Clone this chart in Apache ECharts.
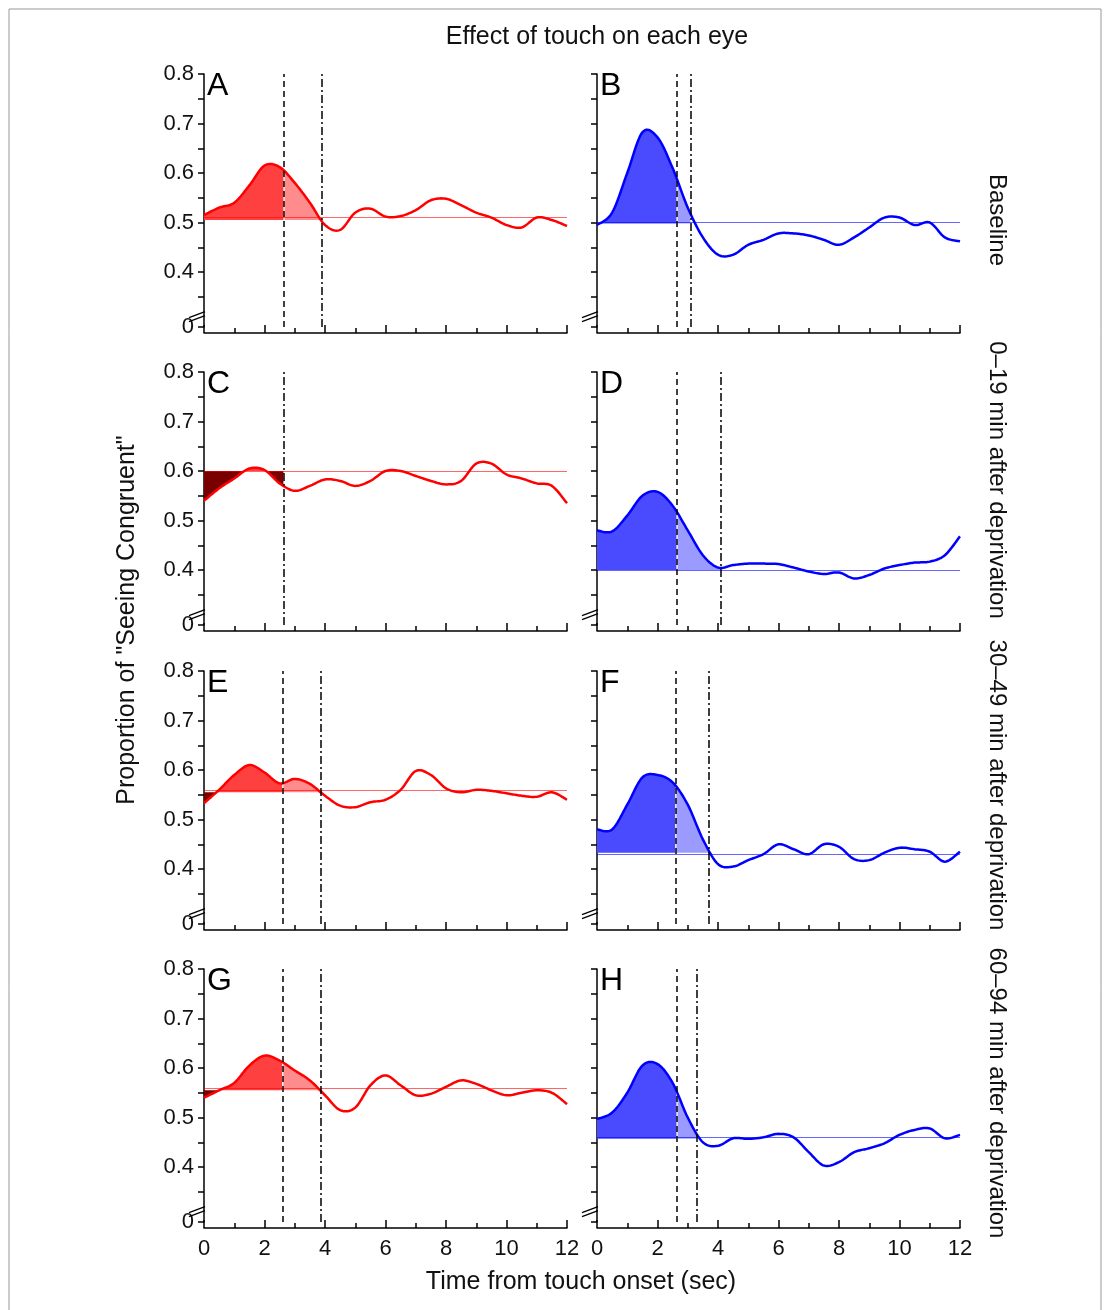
<!DOCTYPE html>
<html><head><meta charset="utf-8">
<script src="https://cdn.jsdelivr.net/npm/echarts@6/dist/echarts.min.js"></script>
<style>html,body{margin:0;padding:0;background:#fff}#c{width:1110px;height:1310px}</style>
</head><body><div id="c"></div>
<script>
const times = [0,0.5,1,1.5,2,2.5,3,3.5,4,4.5,5,5.5,6,6.5,7,7.5,8,8.5,9,9.5,10,10.5,11,11.5,12];
const panelLabels = ['A','B','C','D','E','F','G','H'];
const valsA = [0.515,0.53,0.54,0.575,0.615,0.612,0.58,0.54,0.495,0.485,0.52,0.528,0.512,0.513,0.525,0.545,0.548,0.535,0.52,0.51,0.495,0.49,0.51,0.505,0.493];
const valsB = [0.495,0.52,0.6,0.682,0.672,0.61,0.53,0.47,0.435,0.435,0.455,0.465,0.478,0.478,0.474,0.465,0.455,0.47,0.49,0.51,0.51,0.495,0.5,0.47,0.462];
const valsC = [0.54,0.565,0.585,0.605,0.602,0.575,0.56,0.57,0.583,0.58,0.57,0.58,0.6,0.6,0.59,0.58,0.573,0.58,0.615,0.615,0.593,0.585,0.575,0.57,0.535];
const valsD = [0.48,0.478,0.51,0.55,0.558,0.53,0.48,0.43,0.405,0.41,0.413,0.413,0.412,0.405,0.397,0.392,0.395,0.383,0.39,0.403,0.41,0.415,0.417,0.43,0.468];
const valsE = [0.533,0.56,0.59,0.61,0.595,0.573,0.582,0.572,0.548,0.528,0.525,0.535,0.54,0.56,0.598,0.59,0.563,0.555,0.56,0.558,0.553,0.548,0.546,0.555,0.54];
const valsF = [0.48,0.48,0.53,0.585,0.59,0.575,0.53,0.46,0.41,0.405,0.418,0.43,0.45,0.44,0.43,0.45,0.445,0.42,0.418,0.433,0.443,0.44,0.435,0.415,0.435];
const valsG = [0.54,0.555,0.57,0.605,0.625,0.615,0.595,0.575,0.545,0.515,0.52,0.565,0.585,0.565,0.545,0.548,0.562,0.575,0.568,0.555,0.545,0.55,0.555,0.55,0.527];
const valsH = [0.497,0.51,0.55,0.605,0.608,0.57,0.5,0.45,0.443,0.458,0.457,0.46,0.467,0.46,0.43,0.403,0.41,0.43,0.438,0.448,0.465,0.475,0.478,0.458,0.465];
const baselines = [0.505,0.498,0.6,0.4,0.555,0.433,0.555,0.457];
const dashedX = [2.65,2.65,2.65,2.65,2.6,2.6,2.6,2.65];
const dashdotX = [3.9,3.1,2.65,4.1,3.85,3.7,3.85,3.3];
const yTickLabels = [0.289,0.4,0.5,0.6,0.7,0.8];
const yTicks = [0.289,0.35,0.4,0.45,0.5,0.55,0.6,0.65,0.7,0.75,0.8];
const rowLabels = ['Baseline','0–19 min after deprivation','30–49 min after deprivation','60–94 min after deprivation'];
const allVals = [valsA,valsB,valsC,valsD,valsE,valsF,valsG,valsH];

const FONT = '"Liberation Sans", Arial, sans-serif';
const rowTops = [74,372,671,969];
const colLefts = [204,597];
const GH = 253, GW = 363;

// Catmull-Rom spline in pixel space through library-mapped points
function spline(P){
  const out=[];
  const n=P.length, S=12;
  for(let i=0;i<n-1;i++){
    const p0=P[Math.max(i-1,0)], p1=P[i], p2=P[i+1], p3=P[Math.min(i+2,n-1)];
    for(let s=0;s<S;s++){
      const t=s/S, t2=t*t, t3=t2*t;
      const f=(a,b,c,d)=>0.5*((2*b)+(-a+c)*t+(2*a-5*b+4*c-d)*t2+(-a+3*b-3*c+d)*t3);
      out.push([f(p0[0],p1[0],p2[0],p3[0]), f(p0[1],p1[1],p2[1],p3[1])]);
    }
  }
  out.push(P[n-1]);
  return out;
}

const grid=[],xAxis=[],yAxis=[],series=[];
for(let i=0;i<8;i++){
  const r=Math.floor(i/2), c=i%2;
  const red = c===0;
  grid.push({left:colLefts[c],top:rowTops[r],width:GW,height:GH});
  xAxis.push({gridIndex:i,type:'value',min:0,max:12,interval:2,offset:6,
    axisLine:{lineStyle:{color:'#000',width:1.5}},
    axisTick:{inside:true,length:8,lineStyle:{color:'#000',width:1.5}},
    minorTick:{show:true,splitNumber:2,length:5,lineStyle:{color:'#000',width:1.5}},
    splitLine:{show:false},minorSplitLine:{show:false},
    axisLabel:{show:r===3,fontSize:22,color:'#111',fontFamily:FONT,margin:10,showMinLabel:true,showMaxLabel:true}
  });
  yAxis.push({gridIndex:i,type:'value',min:0.289,max:0.8,offset:7,
    axisLine:{show:true,lineStyle:{color:'#000',width:1.5}},
    axisTick:{show:true,length:6,customValues:yTicks,lineStyle:{color:'#000',width:1.5}},
    splitLine:{show:false},
    axisLabel:{show:c===0,customValues:yTickLabels,fontSize:22,color:'#111',fontFamily:FONT,margin:3,
      formatter:v=>v<0.3?'0':v.toFixed(1)}
  });
  const v=allVals[i], base=baselines[i], xd=dashedX[i], xdd=dashdotX[i];
  const cMain = red?'#ff0000':'#0000ff';
  const cFill = red?'#ff4040':'#4a4aff';
  const cLight = red?'#ff8c8c':'#9a9aff';
  const cDark = red?'#7a0000':'#00007a';
  series.push({type:'custom',xAxisIndex:i,yAxisIndex:i,silent:true,z:3,clip:false,
    data:[0],
    renderItem:(params,api)=>{
      const P=times.map((t,k)=>api.coord([t,v[k]]));
      const D=spline(P);
      const by=api.coord([0,base])[1];
      const px0=api.coord([0,base])[0], pxd=api.coord([xd,base])[0], pxdd=api.coord([xdd,base])[0];
      function poly(a,b,mode){
        const pts=D.filter(p=>p[0]>=a-0.01 && p[0]<=b+0.01).map(p=>[p[0], mode>0?Math.min(p[1],by):Math.max(p[1],by)]);
        if(pts.length<2) return null;
        pts.push([pts[pts.length-1][0],by]); pts.push([pts[0][0],by]);
        return pts;
      }
      const ch=[];
      const a1=poly(px0,pxd,1), b1=poly(px0,pxd,-1);
      if(a1) ch.push({type:'polygon',shape:{points:a1},style:{fill:cFill}});
      if(b1) ch.push({type:'polygon',shape:{points:b1},style:{fill:cDark}});
      if(xdd>xd){ const a2=poly(pxd,pxdd,1); if(a2) ch.push({type:'polygon',shape:{points:a2},style:{fill:cLight}}); }
      ch.push({type:'polyline',shape:{points:D},style:{stroke:cMain,lineWidth:2.5,fill:null}});
      return {type:'group',children:ch};
    }
  });
  const ml=[{yAxis:base,lineStyle:{color:cMain,width:1,type:'solid',opacity:0.6}}];
  if(xdd>xd) ml.push({xAxis:xd,lineStyle:{color:'#000',width:1.5,type:[6,4]}});
  ml.push({xAxis:xdd,lineStyle:{color:'#000',width:1.5,type:[8,3,2,3]}});
  series.push({type:'line',xAxisIndex:i,yAxisIndex:i,showSymbol:false,silent:true,z:2,
    data:times.map((t,k)=>[t,v[k]]),lineStyle:{opacity:0},
    markLine:{silent:true,symbol:'none',label:{show:false},data:ml}});
}

const graphic=[
  {type:'rect',shape:{x:9,y:9,width:1092,height:1320},style:{fill:'none',stroke:'#999',lineWidth:1}},
  {type:'text',x:597,y:37,style:{text:'Effect of touch on each eye',font:'25px '+FONT,fill:'#111',textAlign:'center',textVerticalAlign:'middle'}},
  {type:'text',x:127,y:620,rotation:Math.PI/2,style:{text:'Proportion of "Seeing Congruent"',font:'25px '+FONT,fill:'#111',textAlign:'center',textVerticalAlign:'middle'}},
  {type:'text',x:581,y:1282,style:{text:'Time from touch onset (sec)',font:'25px '+FONT,fill:'#111',textAlign:'center',textVerticalAlign:'middle'}}
];
const rowCenters=[220,480,785,1093];
rowLabels.forEach((t,r)=>graphic.push({type:'text',x:997,y:rowCenters[r],rotation:-Math.PI/2,
  style:{text:t,font:'24px '+FONT,fill:'#111',textAlign:'center',textVerticalAlign:'middle'}}));
for(let i=0;i<8;i++){
  const r=Math.floor(i/2), c=i%2;
  graphic.push({type:'text',x:colLefts[c]+3,y:rowTops[r]+12,style:{text:panelLabels[i],font:'32px '+FONT,fill:'#000',textAlign:'left',textVerticalAlign:'middle'}});
}

const chart=echarts.init(document.getElementById('c'),null,{renderer:'canvas'});
chart.setOption({animation:false,backgroundColor:'#fff',grid,xAxis,yAxis,series,graphic});

const extra=[];
for(let i=0;i<8;i++){
  const p=chart.convertToPixel({gridIndex:i},[0,0.31]);
  const ax=p[0]-7, ay=p[1];
  extra.push({type:'rect',shape:{x:ax-3,y:ay-3,width:6,height:5},style:{fill:'#fff'},z:100});
  extra.push({type:'line',shape:{x1:ax-8,y1:ay+1,x2:ax+8,y2:ay-5},style:{stroke:'#000',lineWidth:1.3},z:101});
  extra.push({type:'line',shape:{x1:ax-8,y1:ay+5,x2:ax+8,y2:ay-1},style:{stroke:'#000',lineWidth:1.3},z:101});
}
chart.setOption({graphic:graphic.concat(extra)});
</script></body></html>
